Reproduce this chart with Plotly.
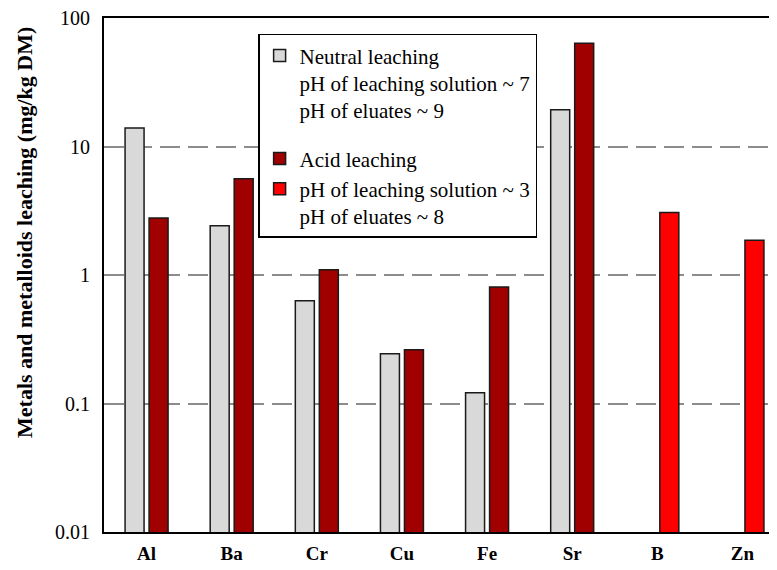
import plotly.graph_objects as go

categories = ["Al", "Ba", "Cr", "Cu", "Fe", "Sr", "B", "Zn"]
neutral = [13.9, 2.42, 0.63, 0.244, 0.121, 19.3, None, None]
acid = [2.78, 5.6, 1.1, 0.262, 0.807, 63.5, None, None]
acid_red = [None, None, None, None, None, None, 3.06, 1.86]
y_ticks = [0.01, 0.1, 1, 10, 100]
y_tick_text = ["0.01", "0.1", "1", "10", "100"]

FONT = "Liberation Serif, Times New Roman, serif"
x_idx = list(range(len(categories)))
W = 0.2232

fig = go.Figure()
fig.add_trace(go.Bar(
    x=x_idx, y=neutral, width=W, offset=-0.2525,
    marker=dict(color="#D9D9D9", line=dict(color="#1a1a1a", width=1.5)),
    name="Neutral leaching<br>pH of leaching solution ~ 7<br>pH of eluates ~ 9",
    legendgroup="neutral",
))
fig.add_trace(go.Bar(
    x=x_idx, y=acid, width=W, offset=0.0294,
    marker=dict(color="#A00000", line=dict(color="#1a1a1a", width=1.5)),
    name="Acid leaching",
    legendgroup="acid",
))
fig.add_trace(go.Bar(
    x=x_idx, y=acid_red, width=W, offset=0.0294,
    marker=dict(color="#FF0000", line=dict(color="#1a1a1a", width=1.5)),
    name="pH of leaching solution ~ 3<br>pH of eluates ~ 8",
    legendgroup="acid",
))

fig.update_layout(
    width=769, height=562,
    margin=dict(l=96, r=0, t=10, b=38, autoexpand=False),
    barmode="overlay",
    plot_bgcolor="white", paper_bgcolor="white",
    font=dict(family=FONT, size=19, color="black"),
    showlegend=True,
    legend=dict(
        x=0.229, y=0.969, xanchor="left", yanchor="top",
        bordercolor="black", borderwidth=1.5, bgcolor="white",
        font=dict(family=FONT, size=21, color="black"),
        valign="top", traceorder="grouped", tracegroupgap=18,
    ),
    xaxis=dict(
        range=[-0.5, 7.406], automargin=False,
        tickmode="array", tickvals=x_idx, ticktext=[f"<b>{c}</b>" for c in categories],
        showline=True, linecolor="black", linewidth=2, mirror=True,
        ticks="", showgrid=False, zeroline=False, ticklabelstandoff=3,
        ticklabeloverflow="allow",
        tickfont=dict(family=FONT, size=19, color="black"),
    ),
    yaxis=dict(
        type="log", range=[-2, 2], automargin=False,
        tickmode="array", tickvals=y_ticks, ticktext=y_tick_text,
        showline=True, linecolor="black", linewidth=2, mirror=False,
        ticks="", ticklabelstandoff=8, ticklabeloverflow="allow",
        showgrid=True, gridcolor="#8c8c8c", gridwidth=1.5, griddash="20px,8px",
        zeroline=False,
        tickfont=dict(family=FONT, size=20, color="black"),
    ),
    annotations=[dict(
        text="<b>Metals and metalloids leaching (mg/kg DM)</b>",
        xref="paper", yref="paper", x=-0.1174, y=0.5837,
        xanchor="center", yanchor="middle", textangle=-90, showarrow=False,
        font=dict(family=FONT, size=22, color="black"),
    )],
)

fig.write_html("out.html")
